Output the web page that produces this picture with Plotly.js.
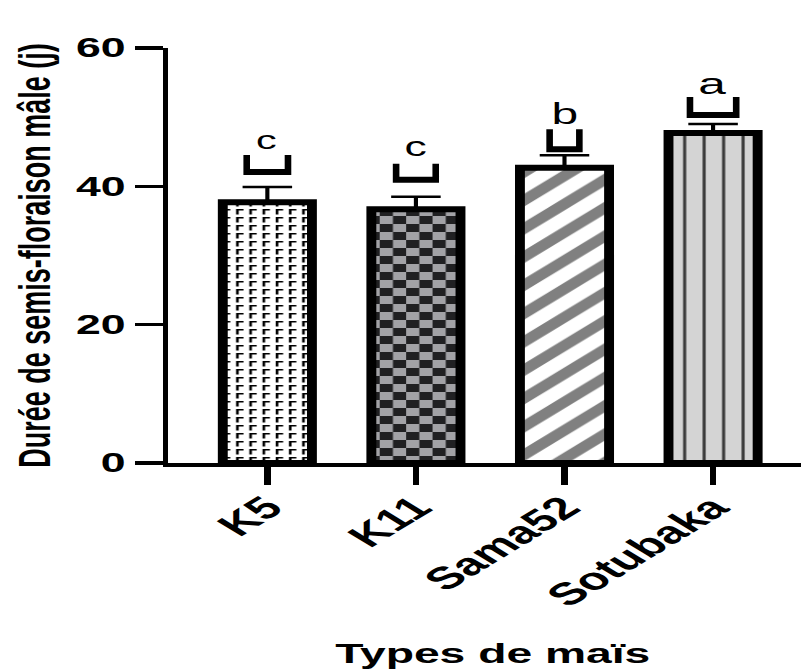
<!DOCTYPE html>
<html><head><meta charset="utf-8">
<script src="https://cdn.plot.ly/plotly-3.0.1.min.js"></script>
<style>
html,body{margin:0;padding:0;overflow:hidden;background:#fff}
#chart{width:487px;height:670px;transform:scaleX(1.651);transform-origin:0 0;}
</style></head><body><div id="chart"></div>
<script>
const categories = ['K5', 'K11', 'Sama52', 'Sotubaka'];
const means = [37.7, 36.7, 42.7, 47.7];
const errors = [2.2, 1.8, 1.8, 1.3];
const letters = ['c', 'c', 'b', 'a'];
const yTicks = [0, 20, 40, 60];
const xTitle = 'Types de maïs';
const yTitle = 'Durée de semis-floraison mâle (j)';

// styling of the bracket marks above each bar (pixels)
const bracketGap = [12, 14, 3, 6];
const bracketW = [29, 28, 22, 32];
const bracketH = [20, 19, 23, 21];
const letterGap = [5, 6, 4, 2];
const letterSize = [25, 27, 29, 30];

const patterns = [
  {shape: '', path: 'M1,1H5.5V2.6H2.6V6.5H1Z', size: 8, bgcolor: '#ffffff', fgcolor: '#000000', fillmode: 'replace'},
  {shape: '', path: 'M0,0H8V8H0ZM8,8H16V16H8Z', size: 16, bgcolor: '#a2a2a6', fgcolor: '#202022', fillmode: 'replace'},
  {shape: '/', size: 20, solidity: 0.45, bgcolor: '#ffffff', fgcolor: '#808080', fillmode: 'replace'},
  {shape: '|', size: 11.8, solidity: 0.16, bgcolor: '#d4d4d4', fgcolor: '#3a3a3a', fillmode: 'replace'}
];

const traces = categories.map((c, i) => ({
  type: 'bar',
  x: [c],
  y: [means[i]],
  width: 0.6,
  marker: {color: patterns[i].bgcolor, pattern: patterns[i], line: {color: '#000', width: 6}},
  error_y: {type: 'data', symmetric: false, array: [errors[i]], arrayminus: [0], color: '#000', thickness: 2.5, width: 15},
  hoverinfo: 'skip',
  showlegend: false
}));

const shapes = categories.map((c, i) => {
  const w = bracketW[i] / 2, b = bracketGap[i], t = bracketGap[i] + bracketH[i], s = 4, bt = 6;
  return {
    type: 'path',
    xref: 'x', yref: 'y',
    xsizemode: 'pixel', ysizemode: 'pixel',
    xanchor: i, yanchor: means[i] + errors[i],
    path: `M${-w},${t}L${-w},${b}L${w},${b}L${w},${t}L${w - s},${t}L${w - s},${b + bt}L${-w + s},${b + bt}L${-w + s},${t}Z`,
    fillcolor: '#000', line: {width: 0}
  };
});

const annotations = categories.map((c, i) => ({
  x: i, y: means[i] + errors[i], xref: 'x', yref: 'y',
  text: letters[i], showarrow: false,
  yanchor: 'bottom',
  yshift: bracketGap[i] + bracketH[i] + letterGap[i] - 1 - 0.21 * letterSize[i],
  font: {family: 'Liberation Sans, Arial, sans-serif', size: letterSize[i], color: '#000'}
}));

annotations.push({
  x: 0.512, y: -0.417, xref: 'paper', yref: 'paper',
  xanchor: 'center', yanchor: 'top', showarrow: false,
  text: xTitle,
  font: {family: 'Liberation Sans, Arial, sans-serif', size: 28, weight: 'bold', color: '#000'}
});

const layout = {
  width: 487, height: 670,
  margin: {l: 102, r: 2, t: 48, b: 207},
  paper_bgcolor: '#fff', plot_bgcolor: '#fff',
  barmode: 'overlay',
  showlegend: false,
  font: {family: 'Liberation Sans, Arial, sans-serif', color: '#000'},
  xaxis: {
    type: 'category', range: [-0.666, 3.59],
    showline: true, linewidth: 4, linecolor: '#000',
    ticks: 'outside', ticklen: 18, tickwidth: 4, tickcolor: '#000',
    tickangle: -45, ticklabelstandoff: -8, showgrid: false, zeroline: false,
    tickfont: {size: 31, weight: 'bold', color: '#000'}
  },
  yaxis: {
    range: [0, 60], tickvals: yTicks, ticktext: yTicks.map(String),
    showline: true, linewidth: 3.5, linecolor: '#000',
    ticks: 'outside', ticklen: 17, tickwidth: 3.5, tickcolor: '#000',
    showgrid: false, zeroline: false,
    tickfont: {size: 27, weight: 'bold', color: '#000'},
    title: {text: yTitle, font: {size: 27, weight: 'bold', color: '#000'}, standoff: 8}
  },
  shapes: shapes,
  annotations: annotations
};

Plotly.newPlot('chart', traces, layout, {displayModeBar: false, staticPlot: true});
</script></body></html>
